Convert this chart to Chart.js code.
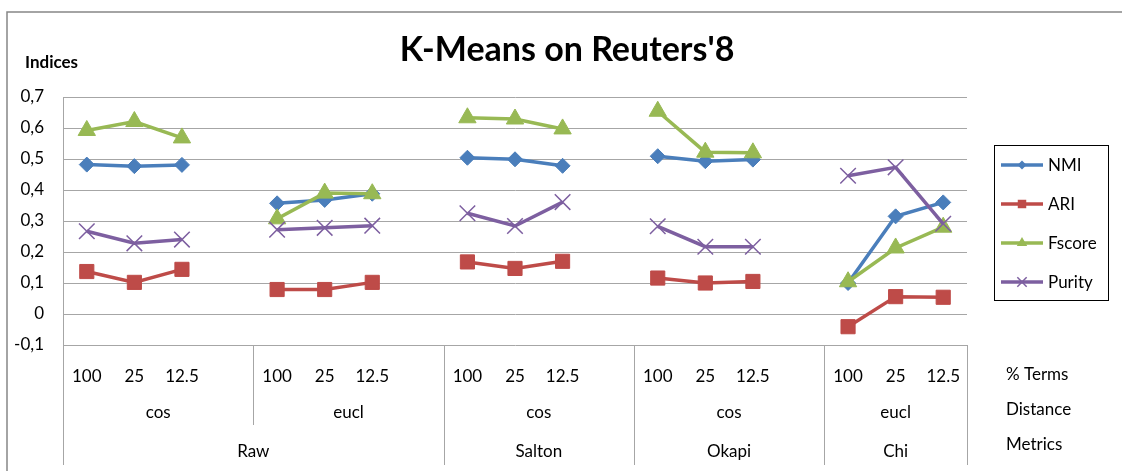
<!DOCTYPE html>
<html>
<head>
<meta charset="utf-8">
<script src="https://cdn.jsdelivr.net/npm/chart.js@4.4.0/dist/chart.umd.min.js"></script>
<style>
  html, body { margin: 0; padding: 0; background: #fff; }
  #wrap { width: 1122px; height: 471px; position: relative; }
</style>
</head>
<body>
<div id="wrap"><canvas id="chart"></canvas></div>
<script>
// K-Means on Reuters'8 — clustering indices by weighting / distance / % terms

const title = "K-Means on Reuters'8";
const terms = ['100', '25', '12.5'];
const distances = ['cos', 'eucl', 'cos', 'cos', 'eucl'];
const metrics = ['Raw', 'Salton', 'Okapi', 'Chi'];
const metricSpan = [2, 1, 1, 1];          // distance groups under each metric
const rowNames = ['% Terms', 'Distance', 'Metrics'];

// one value per (distance group, % terms); null = gap slot between groups
const nmi    = [0.482, 0.477, 0.481, null, 0.357, 0.368, 0.388, null, 0.504, 0.499, 0.478, null, 0.509, 0.493, 0.498, null, 0.100, 0.315, 0.360];
const ari    = [0.137, 0.102, 0.144, null, 0.079, 0.079, 0.102, null, 0.168, 0.147, 0.170, null, 0.116, 0.100, 0.105, null, -0.041, 0.056, 0.054];
const fscore = [0.592, 0.621, 0.568, null, 0.307, 0.390, 0.388, null, 0.633, 0.629, 0.597, null, 0.654, 0.522, 0.520, null, 0.104, 0.213, 0.280];
const purity = [0.267, 0.228, 0.240, null, 0.272, 0.278, 0.285, null, 0.325, 0.284, 0.361, null, 0.283, 0.217, 0.217, null, 0.446, 0.473, 0.291];

const FONT = 'Lato, "Open Sans", sans-serif';

// x labels: terms repeated per distance group with an empty slot between groups
const labels = [];
distances.forEach((d, i) => {
    terms.forEach(t => labels.push(t));
    if (i < distances.length - 1) labels.push('');
});

const series = [
    { label: 'NMI',    data: nmi,    color: '#4A7EBB', style: 'rectRot',  radius: 7.5, bw: 1 },
    { label: 'ARI',    data: ari,    color: '#BE4B48', style: 'rect',     radius: 10,  bw: 1 },
    { label: 'Fscore', data: fscore, color: '#98B954', style: 'triangle', radius: 10,  bw: 1 },
    { label: 'Purity', data: purity, color: '#7D5FA0', style: 'crossRot', radius: 11,  bw: 1.5 }
];

function drawMarker(ctx, style, x, y, r, color, bw) {
    ctx.save();
    ctx.fillStyle = color;
    ctx.strokeStyle = color;
    ctx.lineWidth = bw;
    ctx.beginPath();
    if (style === 'rectRot') {
        ctx.moveTo(x, y - r); ctx.lineTo(x + r, y); ctx.lineTo(x, y + r); ctx.lineTo(x - r, y);
        ctx.closePath(); ctx.fill();
    } else if (style === 'rect') {
        const s = r * Math.SQRT1_2;
        ctx.rect(x - s, y - s, 2 * s, 2 * s); ctx.fill();
    } else if (style === 'triangle') {
        ctx.moveTo(x, y - r);
        ctx.lineTo(x + r * 0.866, y + r * 0.5);
        ctx.lineTo(x - r * 0.866, y + r * 0.5);
        ctx.closePath(); ctx.fill();
    } else {
        const s = r * Math.SQRT1_2;
        ctx.moveTo(x - s, y - s); ctx.lineTo(x + s, y + s);
        ctx.moveTo(x + s, y - s); ctx.lineTo(x - s, y + s);
        ctx.stroke();
    }
    ctx.restore();
}

const decorPlugin = {
    id: 'decor',
    beforeDraw(chart) {
        const ctx = chart.ctx;
        ctx.save();
        ctx.fillStyle = '#fff';
        ctx.fillRect(0, 0, chart.width, chart.height);
        ctx.restore();
    },
    afterDraw(chart) {
        const ctx = chart.ctx;
        const area = chart.chartArea;
        const xs = chart.scales.x;
        const px = i => xs.getPixelForValue(i);

        ctx.save();

        // outer frame
        ctx.strokeStyle = '#868686';
        ctx.lineWidth = 1.5;
        ctx.beginPath();
        ctx.moveTo(7, chart.height);
        ctx.lineTo(7, 12);
        ctx.lineTo(chart.width, 12);
        ctx.stroke();

        // title + y axis caption
        ctx.fillStyle = '#000';
        ctx.textAlign = 'center';
        ctx.textBaseline = 'middle';
        ctx.font = 'bold 34px ' + FONT;
        ctx.fillText(title, 567, 50);
        ctx.textAlign = 'left';
        ctx.font = 'bold 17px ' + FONT;
        ctx.fillText('Indices', 25, 63);

        // group boundaries under the plot
        const bounds = [area.left];
        for (let g = 1; g < distances.length; g++) {
            const gap = g * 4 - 1;
            bounds.push((px(gap) + px(gap + 1)) / 2);
        }
        bounds.push(area.right);

        ctx.strokeStyle = '#a6a6a6';
        ctx.lineWidth = 1;
        let acc = 0;
        const metricEnds = metricSpan.map(s => (acc += s));
        bounds.forEach((bx, i) => {
            const full = i === 0 || i === bounds.length - 1 || metricEnds.includes(i);
            const x = Math.round(bx) + 0.5;
            ctx.beginPath();
            ctx.moveTo(x, area.bottom);
            ctx.lineTo(x, full ? area.bottom + 120 : area.bottom + 80);
            ctx.stroke();
        });

        ctx.fillStyle = '#000';
        ctx.font = '17px ' + FONT;
        ctx.textAlign = 'center';
        distances.forEach((d, i) => {
            ctx.fillText(d, (bounds[i] + bounds[i + 1]) / 2, area.bottom + 68);
        });
        let start = 0;
        metrics.forEach((m, i) => {
            const end = start + metricSpan[i];
            ctx.fillText(m, (bounds[start] + bounds[end]) / 2, area.bottom + 107);
            start = end;
        });

        ctx.textAlign = 'left';
        rowNames.forEach((r, i) => {
            ctx.fillText(r, area.right + 39, area.bottom + 30 + i * 35);
        });

        // legend
        ctx.strokeStyle = '#000';
        ctx.lineWidth = 1;
        ctx.strokeRect(994.5, 145.5, 114, 155);
        series.forEach((s, i) => {
            const y = 165 + i * 39;
            ctx.strokeStyle = s.color;
            ctx.lineWidth = 3.5;
            ctx.beginPath();
            ctx.moveTo(1001, y);
            ctx.lineTo(1043, y);
            ctx.stroke();
            drawMarker(ctx, s.style, 1022, y, s.radius * 0.6, s.color, s.bw);
            ctx.fillStyle = '#000';
            ctx.font = '17px ' + FONT;
            ctx.textAlign = 'left';
            ctx.fillText(s.label, 1048, y + 1);
        });

        ctx.restore();
    }
};

new Chart(document.getElementById('chart'), {
    type: 'line',
    data: {
        labels: labels,
        datasets: series.map((s, i) => ({
            label: s.label,
            data: s.data,
            borderColor: s.color,
            backgroundColor: s.color,
            borderWidth: 3.5,
            pointStyle: s.style,
            pointRadius: s.radius,
            pointBorderWidth: s.bw,
            pointBackgroundColor: s.color,
            pointBorderColor: s.color,
            tension: 0,
            spanGaps: false,
            order: series.length - i
        }))
    },
    options: {
        responsive: true,
        maintainAspectRatio: false,
        animation: false,
        layout: { padding: { top: 97, right: 155, bottom: 0, left: 0 } },
        plugins: {
            legend: { display: false },
            title: { display: false },
            tooltip: { enabled: false }
        },
        scales: {
            x: {
                offset: true,
                grid: { display: false },
                border: { display: false },
                ticks: {
                    autoSkip: false,
                    maxRotation: 0,
                    padding: 13,
                    color: '#000',
                    font: { family: FONT, size: 17 }
                },
                afterFit(scale) { scale.height = 126; }
            },
            y: {
                min: -0.1,
                max: 0.7,
                grid: { color: '#a6a6a6', lineWidth: 1, drawTicks: false },
                border: { display: true, color: '#a6a6a6', width: 1 },
                ticks: {
                    stepSize: 0.1,
                    padding: 19,
                    color: '#000',
                    font: { family: FONT, size: 17 },
                    callback: v => String(Math.round(v * 10) / 10).replace('.', ',')
                },
                afterFit(scale) { scale.width = 63; }
            }
        }
    },
    plugins: [decorPlugin]
});
</script>
</body>
</html>
